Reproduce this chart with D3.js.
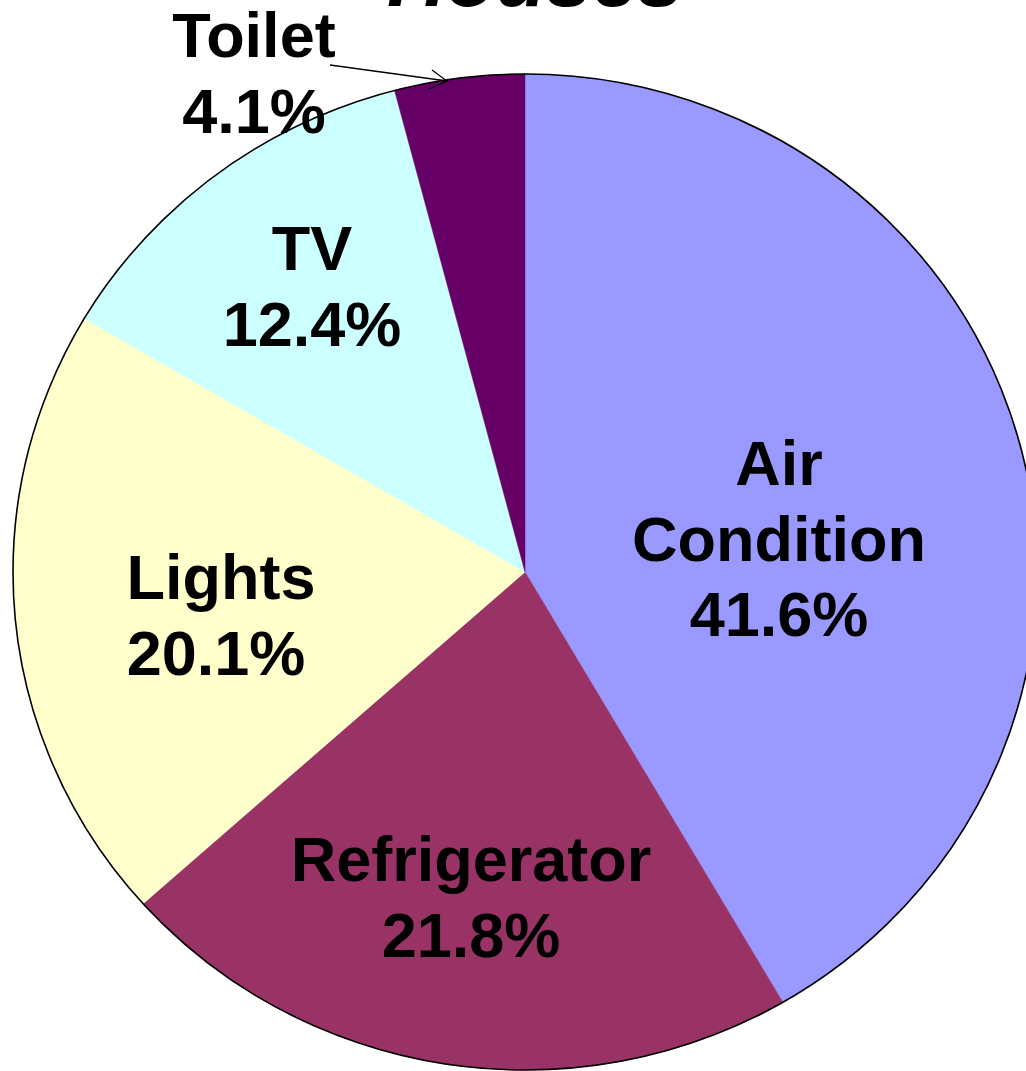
<!DOCTYPE html>
<html>
<head>
<meta charset="utf-8">
<script src="https://cdn.jsdelivr.net/npm/d3@7"></script>
<style>
  html, body { margin: 0; padding: 0; background: #fff; overflow: hidden; }
  svg { display: block; }
  text { font-family: "Liberation Sans", Arial, sans-serif; font-weight: bold; fill: #000; }
</style>
</head>
<body>
<svg id="chart" width="1026" height="1071"></svg>
<script>
// ---- data ----
const categories = ["Air Condition", "Refrigerator", "Lights", "TV", "Toilet"];
const values = [41.6, 21.8, 20.1, 12.4, 4.1];
const labelLines = [["Air", "Condition", "41.6%"], ["Refrigerator", "21.8%"], ["Lights", "20.1%"], ["TV", "12.4%"], ["Toilet", "4.1%"]];
const colors = ["#9999FF", "#993366", "#FFFFCC", "#CCFFFF", "#660066"];
const titleText = "Houses";

// ---- layout ----
const cx = 525, cy = 572, rx = 512, ry = 498;
const fontSize = 63, lineH = 75.5;
// first-baseline positions of labels, with per-line x centres
const labelPos = [
  {x: [779, 779, 779], y: 485},
  {x: [471, 471], y: 881},
  {x: [221, 216], y: 599},
  {x: [312, 312], y: 270},
  {x: [254, 254], y: 57}
];

const svg = d3.select("#chart");

svg.append("text")
  .attr("x", 535).attr("y", 6)
  .attr("text-anchor", "middle")
  .attr("font-size", 82)
  .attr("font-style", "italic")
  .text(titleText);

const pie = d3.pie().sort(null).value(d => d)(values);
const arc = d3.arc().innerRadius(0).outerRadius(ry);

const g = svg.append("g")
  .attr("transform", `translate(${cx},${cy}) scale(${rx / ry},1)`);

g.selectAll("path.slice")
  .data(pie)
  .join("path")
  .attr("class", "slice")
  .attr("d", arc)
  .attr("fill", (d, i) => colors[i])
  .attr("stroke", (d, i) => colors[i])
  .attr("stroke-width", 0.5);

svg.append("ellipse")
  .attr("cx", cx).attr("cy", cy).attr("rx", rx).attr("ry", ry)
  .attr("fill", "none")
  .attr("stroke", "#000")
  .attr("stroke-width", 1.6);

// labels
labelLines.forEach((lines, i) => {
  const t = svg.append("text")
    .attr("text-anchor", "middle")
    .attr("font-size", fontSize);
  lines.forEach((ln, j) => {
    t.append("tspan")
      .attr("x", labelPos[i].x[j])
      .attr("y", labelPos[i].y + j * lineH)
      .text(ln);
  });
});

// leader arrow for Toilet
const tip = [447, 81];
svg.append("line")
  .attr("x1", 330).attr("y1", 65).attr("x2", tip[0]).attr("y2", tip[1])
  .attr("stroke", "#000").attr("stroke-width", 1.3);
svg.append("polyline")
  .attr("points", `432,70 ${tip[0]},${tip[1]} 429,89`)
  .attr("fill", "none")
  .attr("stroke", "#000").attr("stroke-width", 1.3);
</script>
</body>
</html>
